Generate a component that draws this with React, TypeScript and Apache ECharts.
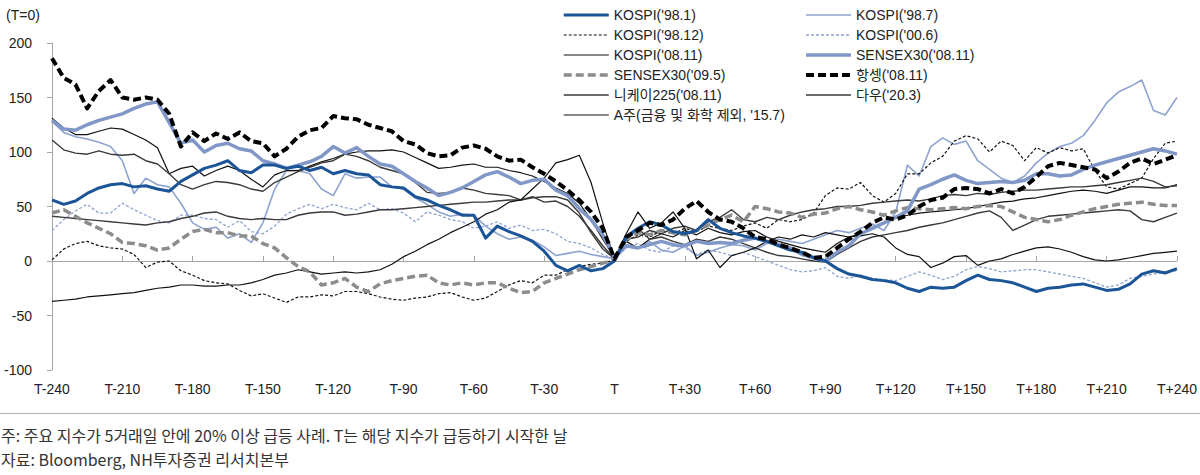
import React, { useEffect, useRef } from "react";
import * as echarts from "echarts";

// x positions: trading days relative to T, sampled every 5 days
const DAYS: number[] = [];
for (let d = -240; d <= 240; d += 5) DAYS.push(d);

// values (index at T = 0)
const kospi981 = [
  56, 52, 55, 62, 67, 70, 71, 68, 69, 66, 64, 73, 79, 85, 88, 92, 83, 81, 88, 88, 85, 87, 83, 86, 80,
  83, 80, 79, 70, 68, 67, 59, 56, 51, 47, 42, 42, 21, 32, 27, 23, 18, 9, -4, -9, -4, -9, -7, 0,
  22, 30, 36, 33, 27, 25, 28, 38, 30, 26, 23, 21, 18, 14, 10, 8, 3, 0, -7, -12,
  -14, -17, -18, -20, -25, -28, -24, -25, -24, -18, -13, -17, -18, -20, -24, -28, -25, -24, -22, -21,
  -24, -27, -26, -21, -12, -9, -11, -7,
];
const kospi987 = [
  128, 118, 114, 112, 109, 105, 92, 62, 76, 70, 68, 53, 35, 29, 31, 21, 25, 17, 35, 66, 83, 83, 80, 66, 60,
  80, 76, 77, 77, 68, 66, 58, 52, 45, 41, 43, 42, 32, 25, 20, 22, 19, 13, 5, 7, 9, 6, 4, 2,
  15, 12, 18, 10, 8, 14, 5, 8, 12, 15, 14, 10, 16, 20, 18, 16, 20, 24, 28, 26,
  30, 34, 28, 45, 88, 78, 105, 113, 107, 110, 92, 84, 76, 72, 78, 90, 99, 105, 108, 115,
  129, 145, 155, 160, 166, 138, 134, 150,
];
const kospi9812 = [
  1, 11, 16, 18, 14, 12, 11, 6, -6, -1, 0, -9, -13, -18, -20, -21, -27, -32, -30, -34, -38, -33, -33, -31, -32,
  -28, -28, -30, -33, -35, -36, -34, -33, -30, -29, -33, -36, -34, -28, -22, -18, -20, -13, -13, -8, -5, -3, -2, 1,
  18, 24, 22, 28, 25, 30, 27, 32, 30, 28, 32, 35, 30, 38, 36, 38, 44, 60, 67, 66,
  72, 60, 54, 62, 80, 80, 90, 96, 110, 115, 112, 100, 110, 106, 92, 104, 99, 104, 101, 103,
  83, 68, 66, 71, 76, 94, 108, 110,
];
const kospi006 = [
  28, 38, 46, 52, 44, 44, 53, 47, 42, 37, 35, 42, 42, 39, 38, 31, 37, 27, 25, 32, 43, 48, 52, 48, 52,
  49, 47, 53, 47, 48, 44, 36, 45, 42, 38, 36, 30, 32, 36, 30, 33, 28, 29, 25, 18, 16, 12, 6, 2,
  12, 16, 10, 8, 14, 12, 6, 10, 8, 5, 8, 4, 0, -4, -8, -10, -9, -6, -14, -16,
  -13, -16, -17, -18, -14, -10, -13, -17, -14, -8, -5, -7, -10, -9, -8, -8, -10, -12, -14, -16,
  -20, -24, -22, -16, -14, -12, -10, -9,
];
const kospi0811 = [
  131, 122, 116, 116, 119, 122, 121, 116, 111, 104, 80, 85, 87, 78, 83, 87, 83, 75, 68, 79, 83, 83, 87, 91, 94,
  98, 100, 101, 101, 102, 100, 95, 90, 85, 86, 88, 89, 86, 86, 83, 81, 78, 73, 67, 62, 53, 38, 20, 3,
  18, 12, 20, 25, 22, 28, 24, 30, 26, 24, 27, 28, 22, 18, 15, 12, 10, 8, 16, 22,
  25, 30, 35, 40, 42, 44, 45, 46, 47, 48, 50, 52, 54, 55, 57, 58, 60, 62, 64, 65,
  64, 62, 65, 68, 68, 67, 67, 70,
];
const sensex0811 = [
  129, 121, 120, 125, 129, 132, 135, 140, 144, 146, 127, 108, 111, 100, 106, 108, 103, 101, 92, 89, 85, 88, 91, 96, 105,
  99, 104, 96, 89, 87, 80, 73, 67, 60, 63, 67, 73, 79, 82, 77, 71, 74, 75, 65, 60, 48, 38, 24, 3,
  14, 12, 15, 18, 15, 14, 18, 16, 17, 16, 19, 21, 18, 15, 12, 6, 3, 0, 8, 14,
  25, 30, 35, 40, 46, 66, 70, 75, 79, 74, 71, 72, 73, 72, 74, 80, 80, 78, 79, 84,
  88, 91, 94, 97, 100, 103, 101, 98,
];
const sensex095 = [
  44, 47, 41, 35, 30, 25, 17, 16, 14, 10, 12, 20, 27, 29, 26, 26, 23, 23, 16, 12, 3, -5, -10, -22, -20,
  -16, -24, -28, -21, -18, -16, -14, -13, -20, -22, -20, -22, -20, -20, -25, -29, -28, -20, -16, -12, -8, -5, -2, 1,
  20, 26, 24, 28, 26, 24, 28, 33, 38, 42, 36, 50, 48, 45, 44, 40, 43, 44, 48, 50,
  47, 45, 42, 46, 49, 48, 47, 48, 49, 48, 50, 51, 50, 45, 40, 38, 36, 38, 42, 45,
  48, 50, 52, 53, 54, 52, 51, 51,
];
const hangseng0811 = [
  186, 168, 162, 140, 156, 166, 150, 148, 150, 148, 135, 105, 118, 110, 117, 112, 118, 110, 108, 96, 103, 114, 120, 122, 133,
  131, 130, 125, 122, 119, 110, 107, 99, 96, 97, 104, 106, 103, 96, 92, 93, 86, 80, 73, 65, 56, 45, 30, 2,
  22, 28, 35, 33, 38, 48, 55, 45, 38, 36, 30, 22, 20, 15, 12, 8, 3, 4, 12, 20,
  27, 35, 40, 38, 42, 50, 56, 58, 66, 67, 66, 62, 66, 62, 68, 77, 87, 90, 88, 86,
  84, 76, 82, 90, 94, 89, 93, 97,
];
const nikkei0811 = [
  111, 102, 99, 98, 101, 98, 97, 98, 92, 89, 80, 70, 66, 70, 73, 72, 70, 66, 64, 72, 77, 82, 86, 90, 92,
  98, 96, 92, 86, 83, 80, 72, 63, 62, 63, 67, 65, 62, 61, 60, 56, 59, 54, 55, 50, 41, 28, 14, 2,
  22, 30, 20, 22, 18, 15, 20, 18, 22, 20, 16, 12, 8, 5, 4, 2, 0, -1, 6, 12,
  18, 22, 24, 26, 28, 31, 33, 35, 38, 41, 44, 46, 40, 28, 33, 38, 41, 42, 43, 44,
  45, 46, 47, 46, 38, 36, 40, 44,
];
const dow203 = [
  41, 40, 39, 38, 37, 36, 35, 34, 33, 35, 36, 39, 41, 44, 45, 41, 39, 38, 39, 38, 38, 42, 44, 45, 45,
  42, 43, 45, 47, 47, 48, 49, 50, 51, 52, 53, 54, 54, 55, 56, 56, 58, 59, 59, 56, 44, 26, 11, 2,
  20, 22, 28, 25, 30, 32, 28, 36, 40, 47, 38, 36, 40, 38, 42, 45, 47, 48, 50, 50,
  51, 53, 54, 55, 56, 55, 57, 60, 61, 60, 62, 61, 63, 64, 65, 65, 66, 67, 68, 68,
  69, 70, 72, 74, 76, 73, 68, 69,
];
const ashare157 = [
  -37, -36, -35, -33, -32, -31, -30, -29, -27, -25, -24, -22, -22, -23, -23, -22, -22, -20, -17, -13, -11, -8, -10, -12, -11,
  -10, -11, -10, -8, -3, 4, 9, 15, 20, 26, 31, 36, 43, 47, 54, 56, 66, 76, 90, 93, 97, 72, 35, 2,
  25, 45, 30, 35, 45, 30, 2, 10, -6, 5, 8, 12, 18, 22, 20, 24, 22, 26, 24, 22,
  23, 25, 22, 12, 6, 4, -6, -2, 4, 5, -4, 0, 2, 6, 9, 12, 13, 11, 8, 4,
  1, 0, 1, 3, 5, 7, 8, 9,
];

const LEGEND_LEFT = [
  "KOSPI('98.1)",
  "KOSPI('98.12)",
  "KOSPI('08.11)",
  "SENSEX30('09.5)",
  "니케이225('08.11)",
  "A주(금융 및 화학 제외, '15.7)",
];
const LEGEND_RIGHT = [
  "KOSPI('98.7)",
  "KOSPI('00.6)",
  "SENSEX30('08.11)",
  "항셍('08.11)",
  "다우('20.3)",
];

const NOTE = "주: 주요 지수가 5거래일 안에 20% 이상 급등 사례. T는 해당 지수가 급등하기 시작한 날";
const SOURCE = "자료: Bloomberg, NH투자증권 리서치본부";

const FONT = '"Liberation Sans", Arial, "Noto Sans CJK KR", sans-serif';
const KFONT = '"Noto Sans CJK KR", sans-serif';

type Def = { name: string; values: number[]; color: string; width: number; dash?: number[] };

// drawing order (later = on top)
const DEFS: Def[] = [
  { name: "KOSPI('98.7)", values: kospi987, color: "#8ea3cf", width: 1.6 },
  { name: "KOSPI('00.6)", values: kospi006, color: "#8ea3cf", width: 1.3, dash: [3, 2] },
  { name: "KOSPI('98.12)", values: kospi9812, color: "#111111", width: 1.2, dash: [3, 2] },
  { name: "KOSPI('08.11)", values: kospi0811, color: "#111111", width: 1.2 },
  { name: "니케이225('08.11)", values: nikkei0811, color: "#3a3a3a", width: 1.4 },
  { name: "다우('20.3)", values: dow203, color: "#3a3a3a", width: 1.4 },
  { name: "A주(금융 및 화학 제외, '15.7)", values: ashare157, color: "#111111", width: 1.2 },
  { name: "SENSEX30('09.5)", values: sensex095, color: "#8c8c8c", width: 3.5, dash: [8, 4] },
  { name: "SENSEX30('08.11)", values: sensex0811, color: "#8197c7", width: 3.5 },
  { name: "KOSPI('98.1)", values: kospi981, color: "#1b5597", width: 3 },
  { name: "항셍('08.11)", values: hangseng0811, color: "#000000", width: 4, dash: [8, 4] },
];

function pairs(vals: number[]) {
  return vals.map((v, i) => [DAYS[i], v]);
}

function dayLabel(v: number) {
  if (v === 0) return "T";
  return v > 0 ? "T+" + v : "T" + v;
}

export default function App() {
  const ref = useRef<HTMLDivElement>(null);

  useEffect(() => {
    if (!ref.current) return;
    const chart = echarts.init(ref.current, null, { renderer: "svg" });

    const series = DEFS.map((s) => ({
      name: s.name,
      type: "line",
      data: pairs(s.values),
      symbol: "none",
      showSymbol: false,
      silent: true,
      xAxisIndex: 0,
      lineStyle: {
        color: s.color,
        width: s.width,
        type: s.dash ? s.dash : "solid",
        cap: "butt",
        join: "round",
      },
      itemStyle: { color: s.color },
      emphasis: { disabled: true },
    }));

    const legendBase = {
      orient: "vertical",
      top: 3,
      itemWidth: 45,
      itemHeight: 14,
      itemGap: 6,
      itemTextGap: 3,
      selectedMode: false,
      itemStyle: { color: "rgba(0,0,0,0)", borderWidth: 0, borderColor: "rgba(0,0,0,0)", opacity: 0 },
      lineStyle: { width: "inherit", type: "inherit", color: "inherit" },
      textStyle: { fontSize: 14, color: "#222", fontFamily: FONT },
    };

    chart.setOption({
      animation: false,
      backgroundColor: "#ffffff",
      grid: { left: 52, right: 19, top: 43, height: 327 },
      legend: [
        { ...legendBase, left: 557, data: LEGEND_LEFT },
        { ...legendBase, left: 799, data: LEGEND_RIGHT },
      ],
      xAxis: [
        {
          type: "value",
          min: -240,
          max: 240,
          interval: 30,
          position: "bottom",
          axisLine: { show: true, onZero: true, lineStyle: { color: "#a6a6a6", width: 1 } },
          axisTick: { show: true, inside: true, length: 5, lineStyle: { color: "#a6a6a6" } },
          axisLabel: { show: false },
          splitLine: { show: false },
        },
        {
          type: "value",
          min: -240,
          max: 240,
          interval: 30,
          position: "bottom",
          axisLine: { show: false, onZero: false },
          axisTick: { show: false },
          splitLine: { show: false },
          axisLabel: {
            show: true,
            formatter: dayLabel,
            fontSize: 14,
            color: "#222",
            fontFamily: FONT,
            margin: 12,
          },
        },
      ],
      yAxis: {
        type: "value",
        min: -100,
        max: 200,
        interval: 50,
        axisLine: { show: true, onZero: false, lineStyle: { color: "#a6a6a6", width: 1 } },
        axisTick: { show: true, inside: false, length: 5, lineStyle: { color: "#a6a6a6" } },
        axisLabel: { fontSize: 14, color: "#222", fontFamily: FONT, margin: 20 },
        splitLine: { show: false },
      },
      graphic: [
        {
          type: "text",
          left: 6,
          top: 8,
          style: { text: "(T=0)", fontSize: 14, fill: "#222", fontFamily: FONT },
        },
        {
          type: "line",
          shape: { x1: 0, y1: 413.5, x2: 1200, y2: 413.5 },
          style: { stroke: "#b0b0b0", lineWidth: 1 },
        },
        {
          type: "text",
          left: 1,
          top: 427,
          style: { text: NOTE, fontSize: 16, fill: "#333", fontFamily: KFONT },
        },
        {
          type: "text",
          left: 1,
          top: 451,
          style: { text: SOURCE, fontSize: 16, fill: "#333", fontFamily: KFONT },
        },
      ],
      series,
    });

    return () => chart.dispose();
  }, []);

  return (
    <div
      ref={ref}
      style={{ position: "absolute", left: 0, top: 0, width: 1200, height: 475, background: "#fff" }}
    />
  );
}
